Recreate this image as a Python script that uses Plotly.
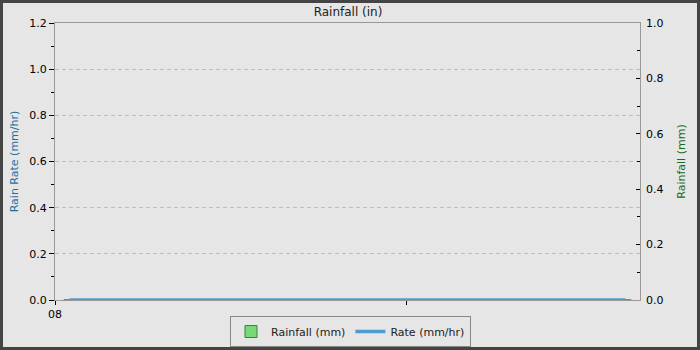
import plotly.graph_objects as go
import pandas as pd

# ---- data ----
times = pd.date_range("2024-01-08 01:00", "2024-01-09 15:00", freq="1h")
rate_mm_hr = [0.0] * len(times)
rainfall_mm = [0.0] * len(times)
x_range = ["2024-01-08 00:00", "2024-01-09 16:00"]
x_tickvals = ["2024-01-08 00:00", "2024-01-09 00:00"]
x_ticktext = ["08", ""]
left_range = [0, 1.2]
right_range = [0, 1.0]

L, R, T, B = 55, 60, 23, 50
W, H = 700, 350
pw, ph = W - L - R, H - T - B

font = "DejaVu Sans, Verdana, sans-serif"
bg = "#e6e6e6"

fig = go.Figure()
# Rainfall on right axis (yaxis), Rate on left axis (yaxis2 overlaying -> drawn on top)
fig.add_trace(go.Bar(
    x=times, y=rainfall_mm, name="Rainfall (mm)", yaxis="y",
    marker=dict(color="#77d977", line=dict(color="#3f7f3f", width=1)),
))
fig.add_trace(go.Scatter(
    x=times, y=rate_mm_hr, name="Rate (mm/hr)", mode="lines",
    line=dict(color="#4f9ccf", width=3.5), yaxis="y2", cliponaxis=False,
))

fig.update_layout(
    width=W, height=H,
    margin=dict(l=L, r=R, t=T, b=B, pad=0, autoexpand=False),
    paper_bgcolor=bg, plot_bgcolor=bg,
    font=dict(family=font, size=11, color="#000"),
    title=dict(text="Rainfall (in)", x=348 / W, xanchor="center",
               y=1 - 12 / H, yanchor="middle",
               font=dict(size=12, color="#222")),
    showlegend=True,
    legend=dict(orientation="h", xref="container", yref="container",
                x=350.5 / W, xanchor="center",
                y=1 - 347 / H, yanchor="bottom",
                bgcolor=bg, bordercolor="#888", borderwidth=1,
                font=dict(size=11, color="#222"),
                traceorder="normal", itemwidth=30, tracegroupgap=0),
    bargap=0.2,
    xaxis=dict(type="date", range=x_range, tickvals=x_tickvals, ticktext=x_ticktext,
               ticks="outside", ticklen=4, tickcolor="#000",
               showline=True, linecolor="#999", linewidth=1, mirror=True,
               showgrid=False, zeroline=False, layer="below traces",
               tickfont=dict(size=11, color="#000")),
    yaxis2=dict(range=left_range, dtick=0.2, tick0=0, tickformat=".1f",
                overlaying="y", side="left",
                ticks="outside", ticklen=5, tickcolor="#000",
                minor=dict(dtick=0.1, ticks="outside", ticklen=3, tickcolor="#000", showgrid=False),
                showline=True, linecolor="#999", linewidth=1, mirror=True,
                showgrid=True, gridcolor="#bdbdbd", griddash="4px,3px", gridwidth=1,
                zeroline=False, layer="below traces",
                title=dict(text="Rain Rate (mm/hr)", font=dict(size=11, color="#1f6fa3"), standoff=8),
                tickfont=dict(size=11, color="#000")),
    yaxis=dict(range=right_range, dtick=0.2, tick0=0, tickformat=".1f",
               side="right",
               ticks="inside", ticklen=4, tickcolor="#000",
               minor=dict(dtick=0.1, ticks="inside", ticklen=3, tickcolor="#000", showgrid=False),
               showline=False, showgrid=False, zeroline=False,
               ticklabelstandoff=5, layer="below traces",
               title=dict(text="Rainfall (mm)", font=dict(size=11, color="#1a6b1a"), standoff=14),
               tickfont=dict(size=11, color="#000")),
    shapes=[dict(type="rect", xref="paper", yref="paper",
                 x0=(1.5 - L) / pw, x1=(W - 1.5 - L) / pw,
                 y0=(300 - (H - 1.5)) / ph, y1=(300 - 1.5) / ph,
                 line=dict(color="#444", width=3), fillcolor="rgba(0,0,0,0)", layer="above")],
)

fig.write_html("out.html")
